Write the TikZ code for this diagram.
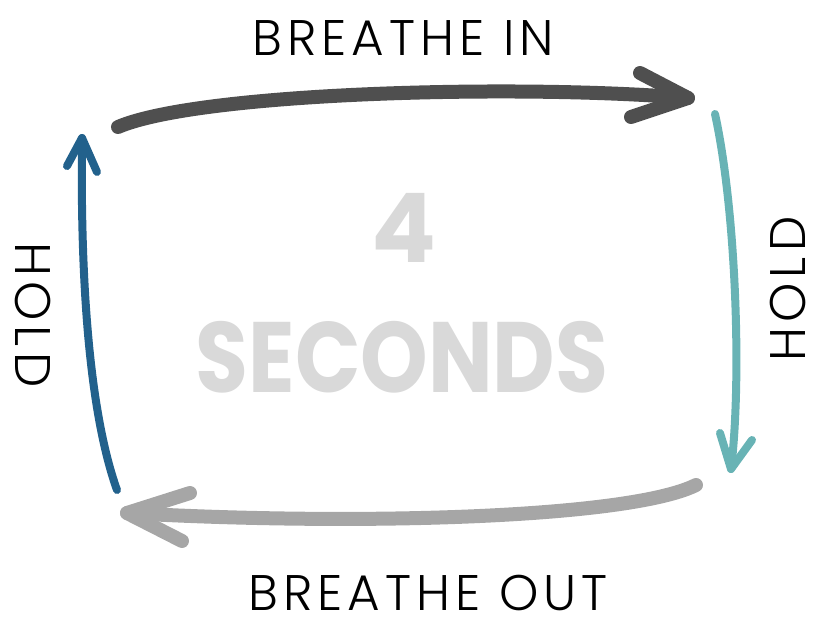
\documentclass[tikz,border=0pt]{standalone}
\usepackage{fontspec}
\usepackage{graphicx}
\newfontfamily\centerfont{Poppins}
\newfontfamily\handfont{Poppins Light}[LetterSpace=10]
\definecolor{cdark}{HTML}{4F4F4F}
\definecolor{cteal}{HTML}{68B3B5}
\definecolor{cgray}{HTML}{A6A6A6}
\definecolor{cblue}{HTML}{22618C}
\definecolor{ctext}{HTML}{D9D9D9}
\tikzset{
  shaft/.style={line width=#1, line cap=round, line join=round},
  label/.style={font=\handfont\fontsize{50}{56}\selectfont, text=black, inner sep=0pt},
  big/.style={font=\centerfont\bfseries\fontsize{#1}{#1}\selectfont, text=ctext, inner sep=0pt}
}
\begin{document}
\begin{tikzpicture}[x=1pt,y=-1pt]
\useasboundingbox (0,0) rectangle (815,623);
% coordinates
\coordinate (t0) at (118,127);
\coordinate (t1) at (688,98);
\coordinate (tb1) at (640,73);
\coordinate (tb2) at (631,117);
\coordinate (r0) at (715,114);
\coordinate (r1) at (731,469);
\coordinate (rb1) at (720,433);
\coordinate (rb2) at (752,440);
\coordinate (b0) at (696,485);
\coordinate (b1) at (127,513);
\coordinate (bb1) at (190,493);
\coordinate (bb2) at (182,541);
\coordinate (l0) at (117,490);
\coordinate (l1) at (82,138);
\coordinate (lb1) at (67,166);
\coordinate (lb2) at (97,172);
% top arrow
\draw[cdark, shaft=14pt] (t0) .. controls (200,92) and (520,84) .. (t1);
\draw[cdark, shaft=14pt] (tb1) -- (t1) -- (tb2);
% right arrow
\draw[cteal, shaft=8pt] (r0) .. controls (736,210) and (742,380) .. (r1);
\draw[cteal, shaft=8pt] (rb1) -- (r1) -- (rb2);
% bottom arrow
\draw[cgray, shaft=14pt] (b0) .. controls (630,518) and (360,526) .. (b1);
\draw[cgray, shaft=14pt] (bb1) -- (b1) -- (bb2);
% left arrow
\draw[cblue, shaft=8pt] (l0) .. controls (92,420) and (80,300) .. (l1);
\draw[cblue, shaft=8pt] (lb1) -- (l1) -- (lb2);
% labels
\node[label] (tin) at (403,38) {BREATHE IN};
\node[label] (tout) at (428,593) {BREATHE OUT};
\node[label, rotate=90] (hr) at (788,289) {HOLD};
\node[label, rotate=-90] (hl) at (33,315) {HOLD};
\node[big=96] (four) at (404,228) {4};
\node[big=100] (sec) at (402,357) {\scalebox{0.86}[1]{SECONDS}};
\end{tikzpicture}
\end{document}
